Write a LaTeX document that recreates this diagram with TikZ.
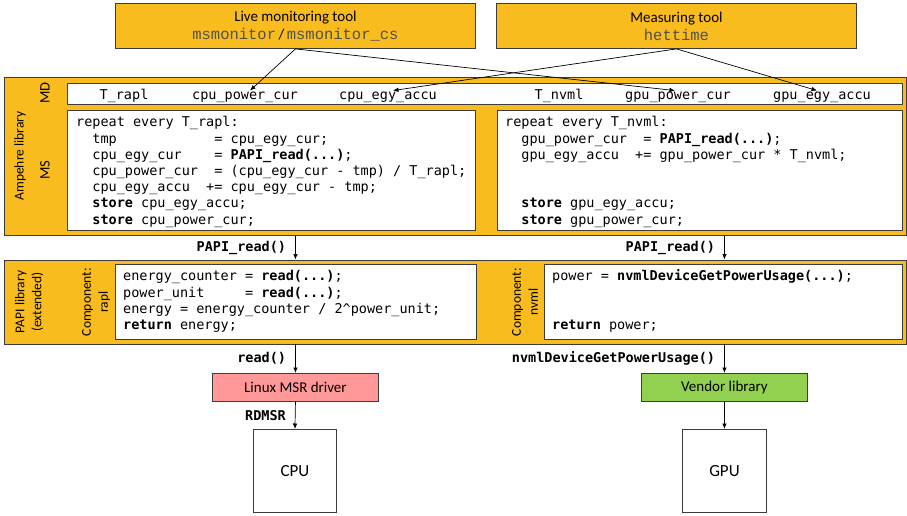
\documentclass[tikz,border=0pt]{standalone}
\usepackage{fontspec}
\setmainfont{Carlito}
\newfontfamily\codefont{DejaVu Sans Mono}
\newfontfamily\courfont{Liberation Mono}
\usetikzlibrary{arrows.meta}
\definecolor{amber}{RGB}{248,188,30}
\definecolor{edgegray}{RGB}{60,60,60}
\definecolor{msrred}{RGB}{255,153,153}
\definecolor{vendgreen}{RGB}{146,208,80}
\definecolor{toolgray}{RGB}{80,80,80}
\newcommand\cf{\codefont\fontsize{13.5}{16.2}\selectfont}
\newcommand\sidef{\fontsize{13.5}{17}\selectfont}
\newcommand\titlef{\fontsize{15}{18}\selectfont}
\newcommand\toolmono[1]{{\courfont\fontsize{15.5}{18}\selectfont\color{toolgray}#1}}
\newcommand\kw[1]{\textbf{#1}}
\begin{document}
\begin{tikzpicture}[x=1pt,y=-1pt,
  panel/.style={draw=edgegray, fill=amber, line width=0.9pt, inner sep=0pt, anchor=north west},
  whitebox/.style={draw=edgegray, fill=white, line width=0.9pt, inner sep=0pt, anchor=north west},
  code/.style={inner sep=0pt, anchor=north west, align=left, font=\cf},
  mdvar/.style={inner sep=1pt, anchor=base, font=\cf},
  side/.style={rotate=90, inner sep=0pt, align=center, font=\sidef},
  conn/.style={draw=black, line width=0.7pt, -{Latex[length=5.5pt,width=4.5pt]}},
  calllbl/.style={font=\cf\bfseries, inner sep=0pt}
]
\useasboundingbox (0,0) rectangle (907,515);

% top tools
\node[panel, minimum width=360, minimum height=45, align=center, font=\titlef] (mon) at (115,3)
  {Live monitoring tool\\\toolmono{msmonitor}\,/\,\toolmono{msmonitor\_cs}};
\node[panel, minimum width=360, minimum height=45, align=center, font=\titlef] (meas) at (496,3)
  {Measuring tool\\\toolmono{hettime}};

% Ampehre library
\node[panel, minimum width=902, minimum height=158] (amp) at (4,77) {};
\node[whitebox, minimum width=835, minimum height=21] (md) at (67,82.5) {};
\node[whitebox, minimum width=408, minimum height=120] (msl) at (67,109.5) {};
\node[whitebox, minimum width=405, minimum height=120] (msr) at (497,109.5) {};
\node[side] (lamp) at (20,156) {Ampehre library};
\node[side, font=\fontsize{14.5}{17}\selectfont] (lmd) at (45,93) {MD};
\node[side, font=\fontsize{14.5}{17}\selectfont] (lms) at (45,170) {MS};

\node[mdvar] (v1) at (124,99.3) {T\_rapl};
\node[mdvar] (v2) at (245,99.3) {cpu\_power\_cur};
\node[mdvar] (v3) at (388,99.3) {cpu\_egy\_accu};
\node[mdvar] (v4) at (559,99.3) {T\_nvml};
\node[mdvar] (v5) at (678,99.3) {gpu\_power\_cur};
\node[mdvar] (v6) at (822,99.3) {gpu\_egy\_accu};

\node[code] (codel) at (76,115.4) {\strut repeat every T\_rapl:\\
~~tmp~~~~~~~~~~~~=~cpu\_egy\_cur;\\
~~cpu\_egy\_cur~~~~=~\kw{PAPI\_read(...)};\\
~~cpu\_power\_cur~~=~(cpu\_egy\_cur~-~tmp)~/~T\_rapl;\\
~~cpu\_egy\_accu~~+=~cpu\_egy\_cur~-~tmp;\\
~~\kw{store}~cpu\_egy\_accu;\\
~~\kw{store}~cpu\_power\_cur;};

\node[code] (coder) at (505,115.4) {\strut repeat every T\_nvml:\\
~~gpu\_power\_cur~~=~\kw{PAPI\_read(...)};\\
~~gpu\_egy\_accu~~+=~gpu\_power\_cur~*~T\_nvml;\\
\mbox{}\\
\mbox{}\\
~~\kw{store}~gpu\_egy\_accu;\\
~~\kw{store}~gpu\_power\_cur;};

% PAPI library
\node[panel, minimum width=902, minimum height=84] (papi) at (4,259.5) {};
\node[whitebox, minimum width=361, minimum height=75] (rapl) at (115,263.5) {};
\node[whitebox, minimum width=358, minimum height=75] (nvml) at (544,263.5) {};
\node[side] (lpapi) at (29,302) {PAPI library\\(extended)};
\node[side] (lrapl) at (96,302) {Component:\\rapl};
\node[side] (lnvml) at (525,302) {Component:\\nvml};

\node[code] (coderapl) at (123,269.4) {\strut energy\_counter~=~\kw{read(...)};\\
power\_unit~~~~~=~\kw{read(...)};\\
energy~=~energy\_counter~/~2\textasciicircum power\_unit;\\
\kw{return}~energy;};

\node[code] (codenvml) at (552,269.4) {\strut power~=~\kw{nvmlDeviceGetPowerUsage(...)};\\
\mbox{}\\
\mbox{}\\
\kw{return}~power;};

% lower blocks
\node[draw=edgegray, fill=msrred, line width=0.9pt, inner sep=0pt, anchor=north west,
  minimum width=166, minimum height=28, font=\titlef] (drv) at (212,373) {Linux MSR driver};
\node[draw=edgegray, fill=vendgreen, line width=0.9pt, inner sep=0pt, anchor=north west,
  minimum width=166, minimum height=28, font=\titlef] (vend) at (641,373) {Vendor library};
\node[draw=edgegray, fill=white, line width=0.9pt, inner sep=0pt, anchor=north west,
  minimum width=83, minimum height=83, font=\fontsize{17}{20}\selectfont] (cpu) at (253,429) {CPU};
\node[draw=edgegray, fill=white, line width=0.9pt, inner sep=0pt, anchor=north west,
  minimum width=84, minimum height=83, font=\fontsize{17}{20}\selectfont] (gpu) at (682,429) {GPU};

% connectors
\draw[conn] (mon.south) -- ([xshift=5pt]v2.north);
\draw[conn] (mon.south) -- ([xshift=-3pt]v5.north);
\draw[conn] (meas.south) -- ([xshift=5pt]v3.north);
\draw[conn] (meas.south) -- ([xshift=-5pt]v6.north);

\draw[conn] (amp.south -| drv.north) -- node[calllbl, left=9pt] {PAPI\_read()} (papi.north -| drv.north);
\draw[conn] (amp.south -| vend.north) -- node[calllbl, left=9pt] {PAPI\_read()} (papi.north -| vend.north);
\draw[conn] (papi.south -| drv.north) -- node[calllbl, left=9pt] {read()} (drv.north);
\draw[conn] (papi.south -| vend.north) -- node[calllbl, left=9pt] {nvmlDeviceGetPowerUsage()} (vend.north);
\draw[conn] (drv.south) -- node[calllbl, left=9pt] {RDMSR} (cpu.north);
\draw[conn] (vend.south) -- (gpu.north);
\end{tikzpicture}
\end{document}
